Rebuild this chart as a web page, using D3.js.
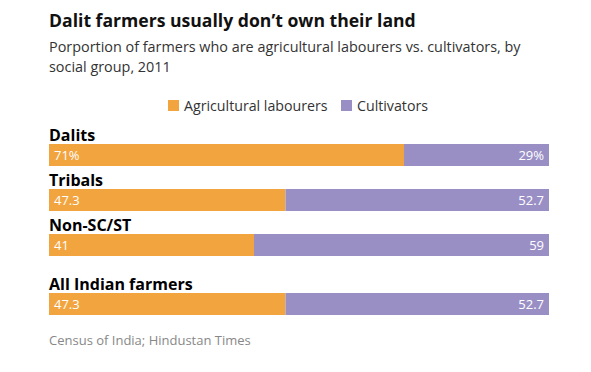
<!DOCTYPE html>
<html lang="en">
<head>
<meta charset="UTF-8">
<title>Dalit farmers</title>
<script src="https://cdnjs.cloudflare.com/ajax/libs/d3/7.8.5/d3.min.js"></script>
<style>
  body { margin: 0; background: #fff; font-family: "Open Sans", sans-serif; }
  svg text { font-family: "Open Sans", sans-serif; }
</style>
</head>
<body>
<div id="chart"></div>
<script>
const groups = ["Dalits", "Tribals", "Non-SC/ST", "All Indian farmers"];
const labourers = [71, 47.3, 41, 47.3];
const cultivators = [29, 52.7, 59, 52.7];
const labourerLabels = ["71%", "47.3", "41", "47.3"];
const cultivatorLabels = ["29%", "52.7", "59", "52.7"];
const seriesNames = ["Agricultural labourers", "Cultivators"];
const colors = ["#f2a43f", "#9a8fc5"];

const W = 591, H = 372;
const svg = d3.select("#chart").append("svg")
    .attr("width", W).attr("height", H);

svg.append("text")
    .attr("x", 49).attr("y", 27)
    .style("font-size", "17.6px").style("font-weight", "bold").attr("fill", "#111")
    .text("Dalit farmers usually don\u2019t own their land");

svg.append("text")
    .attr("x", 49).attr("y", 52)
    .style("font-size", "14.4px").attr("fill", "#333")
    .text("Porportion of farmers who are agricultural labourers vs. cultivators, by");
svg.append("text")
    .attr("x", 49).attr("y", 72)
    .style("font-size", "14.4px").attr("fill", "#333")
    .text("social group, 2011");

// legend
const legendX = [168, 341];
seriesNames.forEach((name, i) => {
    svg.append("rect")
        .attr("x", legendX[i]).attr("y", 100)
        .attr("width", 11).attr("height", 11)
        .attr("fill", colors[i]);
    svg.append("text")
        .attr("x", legendX[i] + 16).attr("y", 111)
        .style("font-size", "14.2px").attr("fill", "#333")
        .text(name);
});

const x = d3.scaleLinear().domain([0, 100]).range([49, 549]);
// extra space before the "All Indian farmers" row
const y = i => 144 + i * 45 + (i === 3 ? 14 : 0);
const barH = 22;

groups.forEach((g, i) => {
    const row = svg.append("g");
    row.append("text")
        .attr("x", 49).attr("y", y(i) - 3)
        .style("font-size", "16px").style("font-weight", "bold").attr("fill", "#000")
        .text(g);
    row.append("rect")
        .attr("x", x(0)).attr("y", y(i))
        .attr("width", x(labourers[i]) - x(0)).attr("height", barH)
        .attr("fill", colors[0]);
    row.append("rect")
        .attr("x", x(labourers[i])).attr("y", y(i))
        .attr("width", x(labourers[i] + cultivators[i]) - x(labourers[i])).attr("height", barH)
        .attr("fill", colors[1]);
    row.append("text")
        .attr("x", x(0) + 5).attr("y", y(i) + 16)
        .style("font-size", "13px").attr("fill", "#fff")
        .text(labourerLabels[i]);
    row.append("text")
        .attr("x", x(100) - 5).attr("y", y(i) + 16)
        .attr("text-anchor", "end")
        .style("font-size", "13px").attr("fill", "#fff")
        .text(cultivatorLabels[i]);
});

svg.append("text")
    .attr("x", 49).attr("y", 345)
    .style("font-size", "13px").attr("fill", "#888")
    .text("Census of India; Hindustan Times");
</script>
</body>
</html>
